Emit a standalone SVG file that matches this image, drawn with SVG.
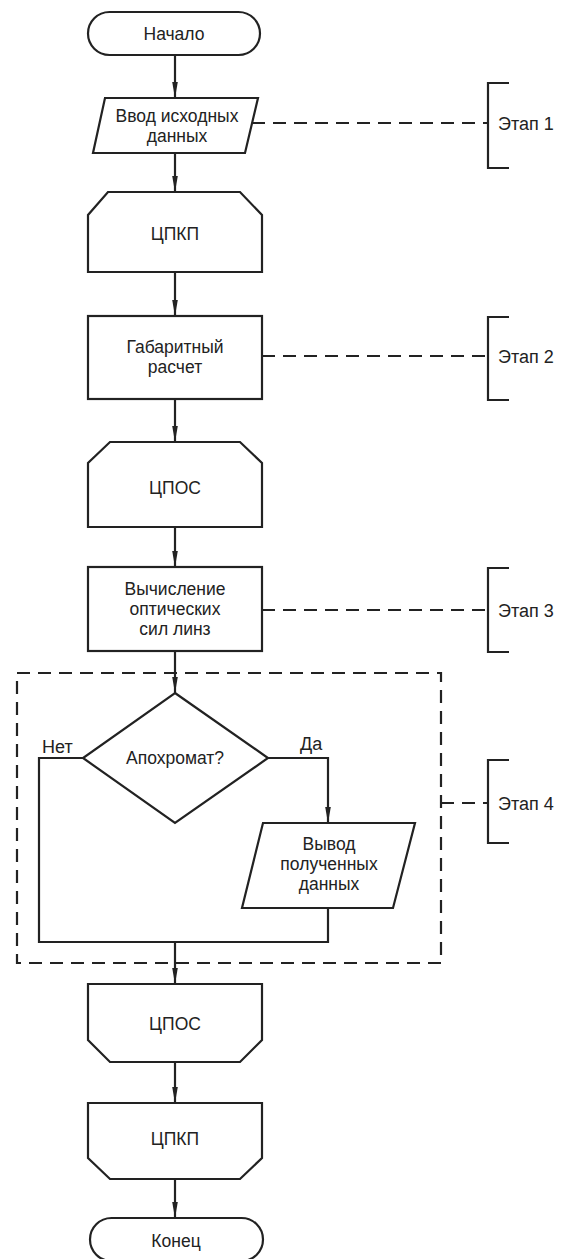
<svg xmlns="http://www.w3.org/2000/svg" width="563" height="1259" viewBox="0 0 563 1259">
<defs>
<style>
.n{fill:#fff;stroke:#222;stroke-width:2.2;stroke-linejoin:miter}
.c{fill:none;stroke:#222;stroke-width:2.2}
.d{fill:none;stroke:#222;stroke-width:2.2;stroke-dasharray:13 8}
.t{font-family:"Liberation Sans",Arial,sans-serif;font-size:17.5px;fill:#222;text-anchor:middle}
.l{font-family:"Liberation Sans",Arial,sans-serif;font-size:18px;fill:#222}
</style>
<marker id="a" markerUnits="userSpaceOnUse" markerWidth="16" markerHeight="8" viewBox="0 0 16 8" refX="16" refY="4" orient="auto">
<path d="M0,1.2 L16,4 L0,6.8 Z" fill="#222"/>
</marker>
</defs>
<rect width="563" height="1259" fill="#fff"/>
<g id="connectors">
<path class="c" d="M175,55 V98" marker-end="url(#a)"/>
<path class="c" d="M175,153 V192" marker-end="url(#a)"/>
<path class="c" d="M175,272 V316" marker-end="url(#a)"/>
<path class="c" d="M175,399 V442" marker-end="url(#a)"/>
<path class="c" d="M175,527 V567" marker-end="url(#a)"/>
<path class="c" d="M175,651 V693" marker-end="url(#a)"/>
<path class="c" d="M268,758 H328 V823" marker-end="url(#a)"/>
<path class="c" d="M83,758 H39 V942 H328 V908"/>
<path class="c" d="M175,942 V984" marker-end="url(#a)"/>
<path class="c" d="M175,1062 V1103" marker-end="url(#a)"/>
<path class="c" d="M175,1179 V1218" marker-end="url(#a)"/>
<text class="l" x="42" y="753">Нет</text>
<text class="l" x="300" y="750">Да</text>
</g>
<g id="stage4box"><rect class="d" x="17" y="673" width="424" height="290"/></g>
<g id="stage1">
<path class="d" d="M252,123 H488"/>
<path class="c" d="M509,83 H488 V168 H509"/>
<text class="l" x="498" y="130">Этап 1</text>
</g>
<g id="stage2">
<path class="d" d="M262,356 H488"/>
<path class="c" d="M509,317 H488 V400 H509"/>
<text class="l" x="498" y="363">Этап 2</text>
</g>
<g id="stage3">
<path class="d" d="M262,610 H488"/>
<path class="c" d="M509,568 H488 V652 H509"/>
<text class="l" x="498" y="617">Этап 3</text>
</g>
<g id="stage4">
<path class="d" d="M441,803 H488"/>
<path class="c" d="M509,760 H488 V843 H509"/>
<text class="l" x="498" y="810">Этап 4</text>
</g>
<g id="start">
<rect class="n" x="88" y="12" width="172" height="43" rx="21.5"/>
<text class="t" x="174" y="40">Начало</text>
</g>
<g id="input">
<polygon class="n" points="105,98 258,98 245,153 93,153"/>
<text class="t" x="177" y="122">Ввод исходных</text>
<text class="t" x="177" y="142">данных</text>
</g>
<g id="cpkp1">
<path class="n" d="M108,192 H240 L262,215 V272 H88 V215 Z"/>
<text class="t" x="175" y="240">ЦПКП</text>
</g>
<g id="gabarit">
<rect class="n" x="88" y="316" width="174" height="83"/>
<text class="t" x="175" y="353">Габаритный</text>
<text class="t" x="175" y="373">расчет</text>
</g>
<g id="cpos1">
<path class="n" d="M110,442 H240 L262,463 V527 H88 V463 Z"/>
<text class="t" x="175" y="494">ЦПОС</text>
</g>
<g id="calc">
<rect class="n" x="88" y="567" width="174" height="84"/>
<text class="t" x="175" y="595">Вычисление</text>
<text class="t" x="175" y="615">оптических</text>
<text class="t" x="175" y="635">сил линз</text>
</g>
<g id="decision">
<polygon class="n" points="175,693 268,758 175,823 83,758"/>
<text class="t" x="175" y="764">Апохромат?</text>
</g>
<g id="output">
<polygon class="n" points="263,823 415,823 393,908 242,908"/>
<text class="t" x="329" y="850">Вывод</text>
<text class="t" x="329" y="870">полученных</text>
<text class="t" x="329" y="890">данных</text>
</g>
<g id="cpos2">
<path class="n" d="M88,984 H262 V1040 L240,1062 H110 L88,1040 Z"/>
<text class="t" x="175" y="1030">ЦПОС</text>
</g>
<g id="cpkp2">
<path class="n" d="M88,1103 H262 V1158 L240,1179 H110 L88,1158 Z"/>
<text class="t" x="175" y="1145">ЦПКП</text>
</g>
<g id="end">
<rect class="n" x="90" y="1218" width="173" height="43" rx="21.5"/>
<text class="t" x="176" y="1247">Конец</text>
</g>
</svg>
